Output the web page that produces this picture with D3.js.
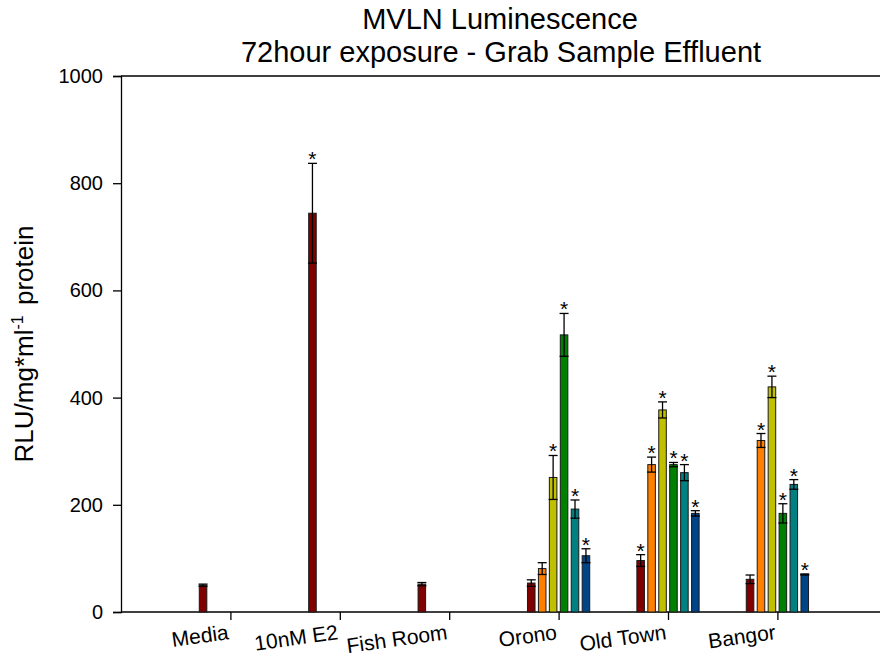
<!DOCTYPE html>
<html>
<head>
<meta charset="utf-8">
<script src="https://cdn.jsdelivr.net/npm/d3@7"></script>
<style>
  body { margin: 0; background: #fff; }
  text { font-family: "Liberation Sans", Arial, sans-serif; fill: #000; }
</style>
</head>
<body>
<svg id="chart"></svg>
<script>
// --------------------
//  data
// --------------------
const categories = ["Media", "10nM E2", "Fish Room", "Orono", "Old Town", "Bangor"];
const seriesNames = ["s1", "s2", "s3", "s4", "s5", "s6"];
const seriesColors = ["#800000", "#ff8000", "#c0c000", "#008000", "#008080", "#004488"];

// mean values per series (null = no bar)
const s1Values = [50, 744, 52, 54, 96, 61];
const s2Values = [null, null, null, 81, 275, 320];
const s3Values = [null, null, null, 251, 377, 420];
const s4Values = [null, null, null, 517, 275, 184];
const s5Values = [null, null, null, 192, 260, 238];
const s6Values = [null, null, null, 105, 184, 70];

// error (+/-)
const s1Errors = [2, 93, 3, 6, 11, 8];
const s2Errors = [null, null, null, 11, 14, 13];
const s3Errors = [null, null, null, 41, 15, 20];
const s4Errors = [null, null, null, 40, 4, 18];
const s5Errors = [null, null, null, 17, 15, 9];
const s6Errors = [null, null, null, 13, 5, 1];

// significance marks (*)
const s1Stars = [false, true, false, false, true, false];
const s2Stars = [false, false, false, false, true, true];
const s3Stars = [false, false, false, true, true, true];
const s4Stars = [false, false, false, true, true, true];
const s5Stars = [false, false, false, true, true, true];
const s6Stars = [false, false, false, true, true, true];

const yTicks = [0, 200, 400, 600, 800, 1000];

const allValues = [s1Values, s2Values, s3Values, s4Values, s5Values, s6Values];
const allErrors = [s1Errors, s2Errors, s3Errors, s4Errors, s5Errors, s6Errors];
const allStars = [s1Stars, s2Stars, s3Stars, s4Stars, s5Stars, s6Stars];

// flat table for binding
const rows = [];
seriesNames.forEach((s, si) => {
    categories.forEach((c, ci) => {
        if (allValues[si][ci] == null) return;
        rows.push({series: si, cat: ci, value: allValues[si][ci], err: allErrors[si][ci], star: allStars[si][ci]});
    });
});

// --------------------
//  layout
// --------------------
const width = 880;
const height = 663;
const plotLeft = 121, plotTop = 76, plotBottom = 612;
const step = 109.4;

const svg = d3.select("#chart")
    .attr("width", width)
    .attr("height", height);

// category positions 1..6 on a 0..7 axis
const x = d3.scaleLinear().domain([0, 7]).range([plotLeft, plotLeft + 7 * step]);
const y = d3.scaleLinear().domain([0, 1000]).range([plotBottom, plotTop]);

// bars inside a group
const groupWidth = x(0.6) - x(0);
const inner = d3.scaleBand()
    .domain(d3.range(seriesNames.length))
    .range([-groupWidth / 2, groupWidth / 2])
    .paddingInner(0.31)
    .paddingOuter(0.155);

const cx = d => x(d.cat + 1) + inner(d.series);

// title
svg.append("text")
    .attr("x", 500).attr("y", 29)
    .attr("text-anchor", "middle")
    .attr("font-size", "29px")
    .text("MVLN Luminescence");
svg.append("text")
    .attr("x", 501).attr("y", 62)
    .attr("text-anchor", "middle")
    .attr("font-size", "29px")
    .text("72hour exposure - Grab Sample Effluent");

// frame line at the top
svg.append("line")
    .attr("x1", plotLeft).attr("x2", x(7))
    .attr("y1", y(1000)).attr("y2", y(1000))
    .attr("stroke", "#000").attr("stroke-width", 1.3);

// y axis
const yAxis = svg.append("g")
    .attr("transform", `translate(${plotLeft},0)`)
    .call(d3.axisLeft(y).tickValues(yTicks).tickSize(8).tickPadding(10).tickFormat(d3.format("d")));
yAxis.select(".domain").attr("stroke", "#000").attr("stroke-width", 1.3);
yAxis.selectAll(".tick line").attr("stroke", "#000").attr("stroke-width", 1.3);
yAxis.selectAll(".tick text")
    .attr("font-family", "'Liberation Sans', Arial, sans-serif")
    .attr("font-size", "20px")
    .attr("fill", "#000");

// x axis
const xAxis = svg.append("g")
    .attr("transform", `translate(0,${plotBottom})`)
    .call(d3.axisBottom(x).tickValues(d3.range(1, 7)).tickSize(8).tickFormat(""));
xAxis.select(".domain").attr("stroke", "#000").attr("stroke-width", 1.3)
    .attr("d", `M${plotLeft},0H${x(7)}`);
xAxis.selectAll(".tick line").attr("stroke", "#000").attr("stroke-width", 1.3);

// category labels, slightly tilted
svg.append("g")
    .selectAll("text")
    .data(categories)
    .join("text")
    .attr("transform", (d, i) => `translate(${x(i + 1) - 1},639) rotate(-8)`)
    .attr("text-anchor", "end")
    .attr("font-size", "21px")
    .text(d => d);

// y label
const yLabel = svg.append("text")
    .attr("transform", `translate(33,${(plotTop + plotBottom) / 2}) rotate(-90)`)
    .attr("text-anchor", "middle")
    .attr("font-size", "26px");
yLabel.append("tspan").text("RLU/mg*ml");
yLabel.append("tspan").attr("font-size", "16px").attr("dy", "-10").text("-1");
yLabel.append("tspan").attr("dy", "10").attr("dx", "3").text(" protein");

// bars
svg.append("g")
    .selectAll("rect")
    .data(rows)
    .join("rect")
    .attr("x", cx)
    .attr("y", d => y(d.value))
    .attr("width", inner.bandwidth())
    .attr("height", d => y(0) - y(d.value))
    .attr("fill", d => seriesColors[d.series])
    .attr("stroke", "#1a1a1a")
    .attr("stroke-width", 1);

// error bars
const eb = svg.append("g")
    .selectAll("g")
    .data(rows)
    .join("g")
    .attr("stroke", "#000")
    .attr("stroke-width", 1.3);
const capW = 9;
eb.append("line")
    .attr("x1", d => cx(d) + inner.bandwidth() / 2)
    .attr("x2", d => cx(d) + inner.bandwidth() / 2)
    .attr("y1", d => y(d.value - d.err))
    .attr("y2", d => y(d.value + d.err));
eb.append("line")
    .attr("x1", d => cx(d) + inner.bandwidth() / 2 - capW / 2)
    .attr("x2", d => cx(d) + inner.bandwidth() / 2 + capW / 2)
    .attr("y1", d => y(d.value + d.err))
    .attr("y2", d => y(d.value + d.err));
eb.append("line")
    .attr("x1", d => cx(d) + inner.bandwidth() / 2 - capW / 2)
    .attr("x2", d => cx(d) + inner.bandwidth() / 2 + capW / 2)
    .attr("y1", d => y(d.value - d.err))
    .attr("y2", d => y(d.value - d.err));

// asterisks
svg.append("g")
    .selectAll("text")
    .data(rows.filter(d => d.star))
    .join("text")
    .attr("x", d => cx(d) + inner.bandwidth() / 2)
    .attr("y", d => y(d.value + d.err) + 3)
    .attr("text-anchor", "middle")
    .attr("font-size", "21px")
    .text("*");
</script>
</body>
</html>
